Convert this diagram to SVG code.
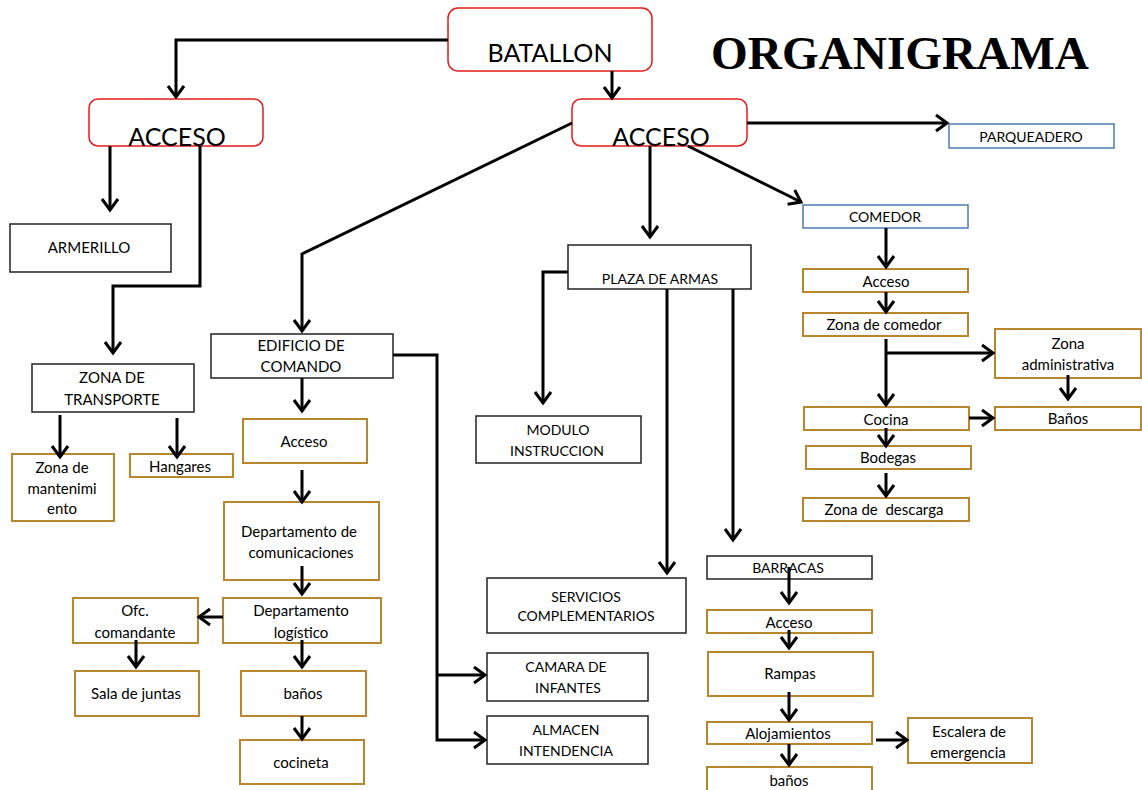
<svg xmlns="http://www.w3.org/2000/svg" width="1142" height="790" viewBox="0 0 1142 790">
<style>
.r{fill:#fff;stroke:#e81a1a;stroke-width:1.5}
.b{fill:#fff;stroke:#4a7bb5;stroke-width:1.5}
.k{fill:#fff;stroke:#222;stroke-width:1.5}
.g{fill:#fff;stroke:#b8872d;stroke-width:2}
text{font-family:Lato,"Liberation Sans",sans-serif;font-size:15px;fill:#000;text-anchor:middle}
.big{font-size:25px}
.sm{font-size:14px}
.title{font-family:"Liberation Serif",serif;font-weight:bold;font-size:47px;text-anchor:start;fill:#000}
.c path{fill:none;stroke:#000;stroke-width:3;marker-end:url(#a)}
</style>
<defs>
<marker id="a" markerUnits="userSpaceOnUse" markerWidth="16" markerHeight="20" viewBox="0 0 16 20" refX="13" refY="10" orient="auto">
<path d="M2,2 L13,10 L2,18" fill="none" stroke="#000" stroke-width="3"/>
</marker>
</defs>
<rect width="1142" height="790" fill="#fff"/>
<text class="title" x="711" y="69" textLength="378" lengthAdjust="spacingAndGlyphs">ORGANIGRAMA</text>

<g id="batallon"><rect class="r" x="448" y="8" width="204" height="63" rx="10"/><text class="big" x="550" y="62">BATALLON</text></g>
<g id="acceso-l"><rect class="r" x="89" y="99" width="174" height="47" rx="9"/><text class="big" x="177" y="146">ACCESO</text></g>
<g id="acceso-r"><rect class="r" x="572" y="99" width="175" height="47" rx="9"/><text class="big" x="661" y="146">ACCESO</text></g>
<g id="armerillo"><rect class="k" x="10" y="224" width="161" height="48"/><text x="89" y="253">ARMERILLO</text></g>
<g id="zona-transporte"><rect class="k" x="32" y="364" width="162" height="48"/><text x="112" y="383">ZONA DE</text><text x="112" y="405">TRANSPORTE</text></g>
<g id="zona-mant"><rect class="g" x="12" y="454" width="102" height="67"/><text x="62" y="473">Zona de</text><text x="62" y="494">mantenimi</text><text x="62" y="514">ento</text></g>
<g id="hangares"><rect class="g" x="130" y="454" width="103" height="23"/><text x="180" y="472">Hangares</text></g>
<g id="edificio"><rect class="k" x="211" y="334" width="182" height="44"/><text x="301" y="351">EDIFICIO DE</text><text x="301" y="372">COMANDO</text></g>
<g id="acceso-ed"><rect class="g" x="243" y="419" width="124" height="44"/><text x="304" y="447">Acceso</text></g>
<g id="depto-com"><rect class="g" x="224" y="502" width="155" height="78"/><text x="299" y="537">Departamento de</text><text x="301" y="558">comunicaciones</text></g>
<g id="depto-log"><rect class="g" x="223" y="598" width="158" height="45"/><text x="301" y="616">Departamento</text><text x="301" y="638">logístico</text></g>
<g id="ofc"><rect class="g" x="73" y="598" width="125" height="45"/><text x="135" y="616">Ofc.</text><text x="135" y="638">comandante</text></g>
<g id="sala"><rect class="g" x="75" y="671" width="124" height="45"/><text x="136" y="699">Sala de juntas</text></g>
<g id="banos-ed"><rect class="g" x="241" y="671" width="125" height="45"/><text x="303" y="699">baños</text></g>
<g id="cocineta"><rect class="g" x="240" y="740" width="124" height="44"/><text x="301" y="768">cocineta</text></g>
<g id="plaza"><rect class="k" x="568" y="245" width="183" height="44"/><text class="sm" x="660" y="284">PLAZA DE ARMAS</text></g>
<g id="modulo"><rect class="k" x="476" y="416" width="165" height="47"/><text class="sm" x="558" y="435">MODULO</text><text class="sm" x="557" y="456">INSTRUCCION</text></g>
<g id="servicios"><rect class="k" x="487" y="578" width="199" height="55"/><text class="sm" x="586" y="602">SERVICIOS</text><text class="sm" x="586" y="621">COMPLEMENTARIOS</text></g>
<g id="camara"><rect class="k" x="487" y="653" width="161" height="48"/><text class="sm" x="566" y="672">CAMARA DE</text><text class="sm" x="568" y="693">INFANTES</text></g>
<g id="almacen"><rect class="k" x="487" y="716" width="161" height="48"/><text class="sm" x="566" y="735">ALMACEN</text><text class="sm" x="566" y="756">INTENDENCIA</text></g>
<g id="parqueadero"><rect class="b" x="949" y="124" width="165" height="24"/><text class="sm" x="1031" y="142">PARQUEADERO</text></g>
<g id="comedor"><rect class="b" x="803" y="205" width="165" height="23"/><text class="sm" x="885" y="222">COMEDOR</text></g>
<g id="acceso-com"><rect class="g" x="803" y="269" width="165" height="23"/><text x="886" y="287">Acceso</text></g>
<g id="zona-comedor"><rect class="g" x="803" y="313" width="165" height="23"/><text x="884" y="330">Zona de comedor</text></g>
<g id="zona-admin"><rect class="g" x="995" y="329" width="146" height="49"/><text x="1068" y="349">Zona</text><text x="1068" y="370">administrativa</text></g>
<g id="cocina"><rect class="g" x="804" y="407" width="165" height="23"/><text x="886" y="425">Cocina</text></g>
<g id="banos-com"><rect class="g" x="995" y="407" width="146" height="23"/><text x="1068" y="424">Baños</text></g>
<g id="bodegas"><rect class="g" x="806" y="446" width="165" height="23"/><text x="888" y="463">Bodegas</text></g>
<g id="descarga"><rect class="g" x="803" y="498" width="166" height="23"/><text x="884" y="515" xml:space="preserve">Zona de  descarga</text></g>
<g id="barracas"><rect class="k" x="707" y="556" width="165" height="23"/><text class="sm" x="788" y="573">BARRACAS</text></g>
<g id="acceso-bar"><rect class="g" x="707" y="610" width="165" height="23"/><text x="789" y="628">Acceso</text></g>
<g id="rampas"><rect class="g" x="708" y="652" width="165" height="44"/><text x="790" y="679">Rampas</text></g>
<g id="alojamientos"><rect class="g" x="707" y="722" width="165" height="22"/><text x="788" y="739">Alojamientos</text></g>
<g id="escalera"><rect class="g" x="908" y="718" width="124" height="45"/><text x="969" y="737">Escalera de</text><text x="968" y="758">emergencia</text></g>
<g id="banos-bar"><rect class="g" x="707" y="767" width="165" height="30"/><text x="789" y="786">baños</text></g>

<g class="c">
<path d="M448,40 H176 V97"/>
<path d="M612,71 V98"/>
<path d="M110,146 V210"/>
<path d="M200,146 V286 H113 V353"/>
<path d="M60,415 V457"/>
<path d="M177,418 V457"/>
<path d="M572,123 L302,254 V331"/>
<path d="M747,123 H947"/>
<path d="M688,146 L801,202"/>
<path d="M650,146 V237"/>
<path d="M568,272 H543 V403"/>
<path d="M667,289 V573"/>
<path d="M733,289 V540"/>
<path d="M393,355 H437 V740 H485"/>
<path d="M437,675 H485"/>
<path d="M302,378 V411"/>
<path d="M302,470 V502"/>
<path d="M302,566 V594"/>
<path d="M223,617 H199"/>
<path d="M136,640 V667"/>
<path d="M302,640 V667"/>
<path d="M302,716 V739"/>
<path d="M886,228 V267"/>
<path d="M886,292 V312"/>
<path d="M886,339 V405"/>
<path d="M886,353 H993"/>
<path d="M1068,375 V399"/>
<path d="M969,418 H993"/>
<path d="M886,428 V446"/>
<path d="M886,473 V496"/>
<path d="M789,567 V603"/>
<path d="M789,630 V648"/>
<path d="M789,692 V720"/>
<path d="M876,740 H907"/>
<path d="M789,744 V765"/>
</g>
</svg>
